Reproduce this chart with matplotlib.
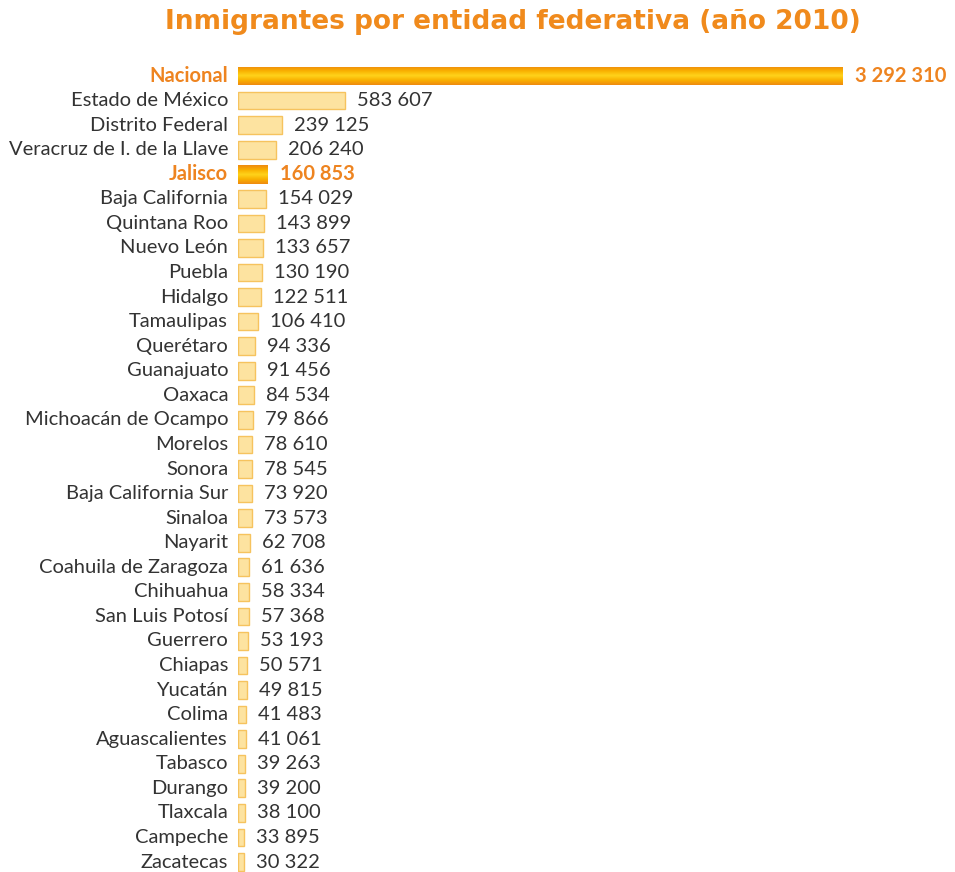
import numpy as np
import matplotlib.pyplot as plt
from matplotlib.patches import Rectangle
from matplotlib.colors import LinearSegmentedColormap

entidades = ['Nacional', 'Estado de México', 'Distrito Federal', 'Veracruz de I. de la Llave',
             'Jalisco', 'Baja California', 'Quintana Roo', 'Nuevo León', 'Puebla', 'Hidalgo',
             'Tamaulipas', 'Querétaro', 'Guanajuato', 'Oaxaca', 'Michoacán de Ocampo', 'Morelos',
             'Sonora', 'Baja California Sur', 'Sinaloa', 'Nayarit', 'Coahuila de Zaragoza',
             'Chihuahua', 'San Luis Potosí', 'Guerrero', 'Chiapas', 'Yucatán', 'Colima',
             'Aguascalientes', 'Tabasco', 'Durango', 'Tlaxcala', 'Campeche', 'Zacatecas']
inmigrantes = [3292310, 583607, 239125, 206240, 160853, 154029, 143899, 133657, 130190, 122511,
               106410, 94336, 91456, 84534, 79866, 78610, 78545, 73920, 73573, 62708, 61636,
               58334, 57368, 53193, 50571, 49815, 41483, 41061, 39263, 39200, 38100, 33895, 30322]
destacados = ['Nacional', 'Jalisco']

ORANGE = '#EE8420'
LIGHT = '#FDE3A0'
EDGE = '#F6C35E'
TEXT = '#333333'

W, H = 955, 872
fig = plt.figure(figsize=(W / 100, H / 100), dpi=100)
x0, x_nac = 238, 843
n = len(entidades)
y_first, y_last = 76, 862
step = (y_last - y_first) / (n - 1)
top_px = y_first - step / 2
ax = fig.add_axes([x0 / W, 0, (W - x0) / W, (H - top_px) / H])
xmax = inmigrantes[0] * (W - x0) / (x_nac - x0)
ylim = (n - 1 + (H - y_last) / step, -0.5)
ax.axis('off')

# vertical gradient for highlighted bars: orange - yellow - orange
grad = np.abs(np.linspace(-1, 1, 64))[:, None]
cmap = LinearSegmentedColormap.from_list('og', ['#FFD21A', '#F9B000', '#EF8A10'])

fmt = lambda v: f'{v:,}'.replace(',', ' ')
for i, (name, v) in enumerate(zip(entidades, inmigrantes)):
    hl = name in destacados
    h = 0.76 if hl else 0.72
    if hl:
        rect = Rectangle((0, i - h / 2), v, h, facecolor='none', edgecolor='none')
        ax.add_patch(rect)
        im = ax.imshow(grad, cmap=cmap, aspect='auto', extent=(0, v, i + h / 2, i - h / 2),
                       interpolation='bilinear')
        im.set_clip_path(rect)
    else:
        ax.barh(i, v, height=h, color=LIGHT, edgecolor=EDGE, linewidth=1.0)
    style = dict(va='center', fontsize=14.5, family='Lato',
                 color=ORANGE if hl else TEXT, fontweight='bold' if hl else 'normal')
    ax.annotate(fmt(v), xy=(v, i), xytext=(12, 0), textcoords='offset pixels',
                ha='left', **style)
    ax.annotate(name, xy=(0, i), xycoords=ax.get_yaxis_transform(), xytext=(-10, 0),
                textcoords='offset pixels', ha='right', **style)
ax.set_ylim(*ylim)
ax.set_xlim(0, xmax)

fig.text(513 / W, 1 - 22 / H, 'Inmigrantes por entidad federativa (año 2010)', ha='center',
         va='center', fontsize=19, fontweight='bold', color='#F08A1C', family='DejaVu Sans')

fig.savefig('out.png', dpi=100, facecolor='white')
